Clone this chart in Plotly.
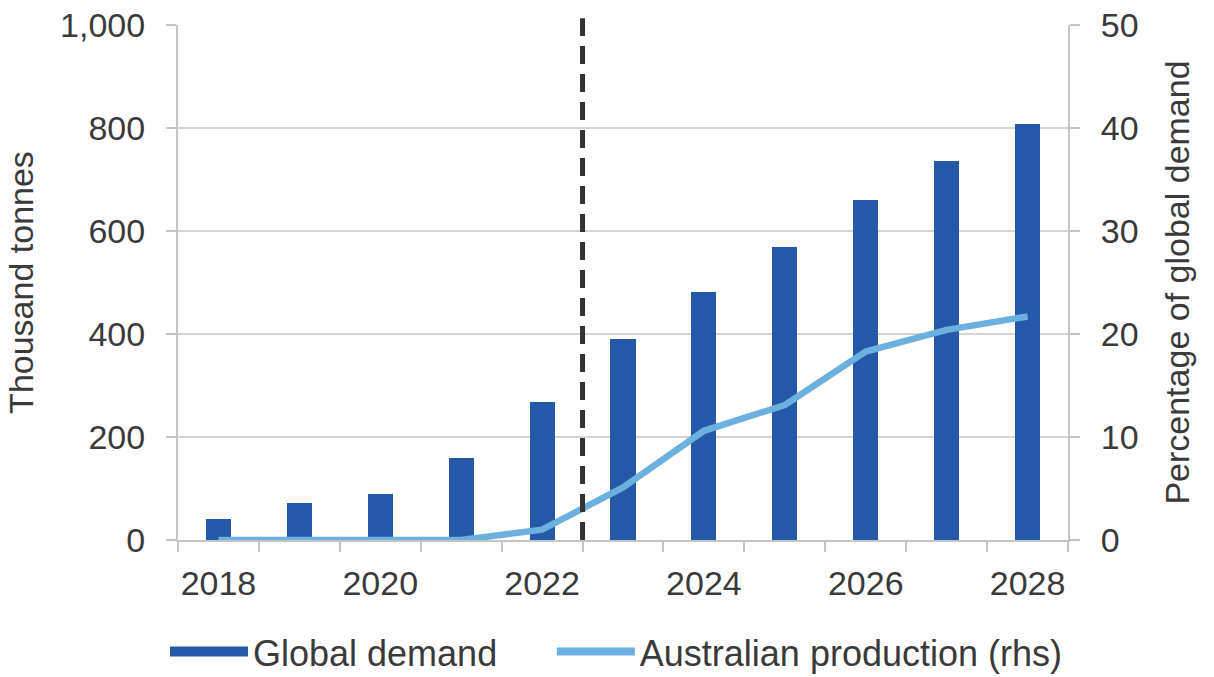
import plotly.graph_objects as go

years = [2018, 2019, 2020, 2021, 2022, 2023, 2024, 2025, 2026, 2027, 2028]
global_demand = [40, 72, 90, 160, 268, 390, 482, 568, 660, 735, 807]
aus_share = [0, 0, 0, 0, 1.0, 5.1, 10.6, 13.1, 18.3, 20.4, 21.7]
x_labels = [2018, 2020, 2022, 2024, 2026, 2028]
forecast_start = 2022.5

BAR_C = "#2559A8"
LINE_C = "#6BB0DF"
AXIS = "#c4c4c4"
GRID = "#d4d4d4"
TXT = "#3a3a3a"
FONT = "Liberation Sans, Arial, sans-serif"
FS = 34
LFS = 36

fig = go.Figure()
fig.add_trace(go.Bar(x=years, y=global_demand, name="Global demand",
                     marker=dict(color=BAR_C, line=dict(width=0)),
                     width=0.31, yaxis="y", showlegend=False))
fig.add_trace(go.Scatter(x=years, y=aus_share, name="Australian production (rhs)",
                         mode="lines", line=dict(color=LINE_C, width=6.5),
                         yaxis="y2", showlegend=False))
# legend proxies (wide swatches like the original)
fig.add_trace(go.Scatter(x=[None], y=[None], name="Global demand", mode="lines",
                         line=dict(color=BAR_C, width=20), yaxis="y", legend="legend"))
fig.add_trace(go.Scatter(x=[None], y=[None], name="Australian production (rhs)",
                         mode="lines", line=dict(color=LINE_C, width=8), yaxis="y2",
                         legend="legend2"))

fig.add_shape(type="line", x0=forecast_start, x1=forecast_start, xref="x",
              yref="paper", y0=0, y1=1.013,
              line=dict(color="#333333", width=5, dash="18px,10px"))

leg_common = dict(orientation="h", xanchor="left", y=-0.275, yanchor="bottom",
                  font=dict(size=LFS, color=TXT), itemwidth=78,
                  bgcolor="rgba(0,0,0,0)")

fig.update_layout(
    width=1214, height=677,
    margin=dict(l=178, r=146, t=25, b=137, autoexpand=False),
    paper_bgcolor="white", plot_bgcolor="white",
    font=dict(family=FONT, size=FS, color=TXT),
    bargap=0,
    showlegend=True,
    legend=dict(x=-0.0146, **leg_common),
    legend2=dict(x=0.42, **leg_common),
    xaxis=dict(range=[2017.5, 2028.5], tickvals=x_labels,
               ticktext=[str(v) for v in x_labels], ticks="",
               showgrid=False, showline=True, linecolor=AXIS, linewidth=2,
               zeroline=False, ticklabelstandoff=12, ticklabeloverflow="allow",
               minor=dict(ticks="outside", tick0=2017.5, dtick=1, ticklen=10,
                          tickcolor=AXIS, tickwidth=2, showgrid=False),
               tickfont=dict(size=FS, color=TXT)),
    yaxis=dict(range=[0, 1000], dtick=200, tickformat=",",
               showgrid=True, gridcolor=GRID, gridwidth=2,
               showline=True, linecolor=AXIS, linewidth=2,
               ticks="outside", ticklen=10, tickcolor=AXIS, tickwidth=2,
               zeroline=False, ticklabelstandoff=14, ticklabeloverflow="allow",
               title=dict(text="Thousand tonnes", font=dict(size=FS, color=TXT), standoff=16),
               tickfont=dict(size=FS, color=TXT)),
    yaxis2=dict(range=[0, 50], dtick=10, overlaying="y", side="right",
                showgrid=False, showline=True, linecolor=AXIS, linewidth=2,
                ticks="outside", ticklen=10, tickcolor=AXIS, tickwidth=2,
                zeroline=False, ticklabelstandoff=14, ticklabeloverflow="allow",
                title=dict(text="Percentage of global demand", font=dict(size=FS, color=TXT), standoff=28),
                tickfont=dict(size=FS, color=TXT)),
)

fig.write_html("out.html", config={"displayModeBar": False},
               post_script="document.body.style.margin='0';document.body.style.overflow='hidden';")
